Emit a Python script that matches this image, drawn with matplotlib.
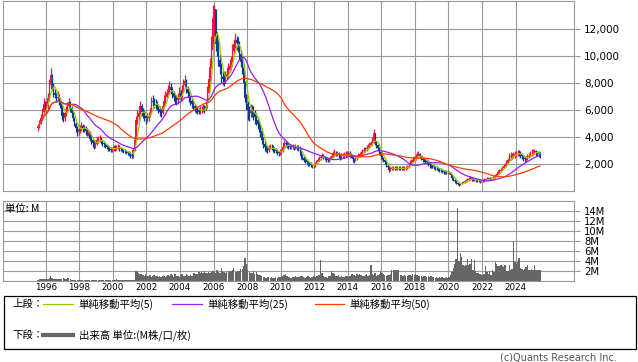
import numpy as np
import pandas as pd
import matplotlib
matplotlib.use('Agg')
import matplotlib.pyplot as plt

plt.rcParams['font.family'] = ['DejaVu Sans', 'Noto Sans CJK JP']
JP = ['Noto Sans CJK JP', 'DejaVu Sans']

# monthly candles, Jul 1995 .. Jun 2025 (open = previous close)
close_px = (
    [4800, 5100, 5400, 5900, 6500, 6200] +                                      # 1995 H2
    [6300, 6900, 7900, 8600, 7800, 7300, 7100, 6900, 7000, 6700, 6500, 5600] +  # 1996
    [5400, 5800, 6000, 6300, 6600, 6200, 5800, 5400, 5000, 4700, 4400, 4600] +  # 1997
    [4700, 4800, 4700, 4650, 4500, 4400, 4400, 3900, 3800, 3600, 3400, 3500] +  # 1998
    [3800, 3850, 3900, 3700, 3550, 3500, 3400, 3300, 3200, 3150, 3050, 3100] +  # 1999
    [3250, 3200, 3250, 3300, 3200, 3100, 3050, 3000, 2950, 2900, 2850, 2800] +  # 2000
    [2700, 2600, 3050, 3800, 5300, 5500, 5800, 6300, 5900, 5800, 5600, 5400] +  # 2001
    [5400, 5600, 5800, 6700, 6600, 6500, 6400, 6300, 6100, 5900, 5800, 6300] +  # 2002
    [6700, 7000, 7250, 7500, 7750, 7500, 7250, 7000, 6800, 6750, 6900, 7300] +  # 2003
    [7000, 7500, 7900, 8200, 7600, 7300, 6900, 6700, 6500, 6300, 6200, 6100] +  # 2004
    [6000, 5900, 6000, 6050, 6150, 6100, 6300, 7300, 8300, 9200, 10500, 12800] +  # 2005
    [13500, 10900, 10700, 9700, 9200, 8500, 8300, 8250, 8500, 8700, 9000, 9300] +  # 2006
    [9500, 10400, 10900, 11200, 11000, 10900, 10200, 9600, 9200, 8000, 6900, 6500] +  # 2007
    [6000, 5800, 6000, 5900, 5800, 5500, 5300, 5000, 4800, 4500, 3800, 3500] +  # 2008
    [3300, 3100, 3050, 3200, 3300, 3250, 3100, 3050, 3000, 2900, 2800, 2900] +  # 2009
    [2950, 3300, 3550, 3500, 3400, 3350, 3300, 3300, 3300, 3250, 3300, 3250] +  # 2010
    [3200, 3100, 2600, 2500, 2350, 2300, 2150, 2050, 2000, 1950, 1850, 1900] +  # 2011
    [2050, 2200, 2350, 2450, 2550, 2650, 2550, 2450, 2400, 2300, 2350, 2450] +  # 2012
    [2600, 2750, 2850, 2800, 2800, 2700, 2550, 2600, 2650, 2700, 2750, 2800] +  # 2013
    [2800, 2750, 2650, 2400, 2300, 2450, 2550, 2650, 2750, 2800, 2950, 3050] +  # 2014
    [3100, 3200, 3300, 3450, 3550, 3700, 4300, 3600, 3400, 3200, 2900, 2600] +  # 2015
    [2500, 2300, 2150, 1900, 1800, 1600, 1650, 1700, 1700, 1680, 1700, 1750] +  # 2016
    [1700, 1680, 1700, 1680, 1700, 1750, 1800, 1900, 2100, 2200, 2350, 2450] +  # 2017
    [2550, 2700, 2750, 2600, 2450, 2350, 2300, 2250, 2200, 2100, 1950, 1900] +  # 2018
    [1850, 1800, 1750, 1700, 1650, 1600, 1550, 1500, 1450, 1420, 1400, 1430] +  # 2019
    [1350, 1200, 1000, 850, 750, 650, 520, 500, 560, 600, 680, 750] +            # 2020
    [800, 850, 930, 950, 900, 850, 850, 820, 800, 780, 750, 760] +               # 2021
    [800, 850, 900, 930, 950, 930, 940, 980, 1050, 1150, 1300, 1400] +           # 2022
    [1500, 1600, 1750, 1850, 1950, 2100, 2300, 2550, 2600, 2650, 2700, 2750] +  # 2023
    [2800, 2850, 2800, 2700, 2600, 2450, 2400, 2450, 2550, 2650, 2800, 2850] +  # 2024
    [2900, 2950, 2850, 2800, 2750, 2680]                                         # 2025 H1
)
high_px = (
    [5000, 5300, 5700, 6200, 6900, 6700] +
    [6700, 7300, 8300, 9100, 8700, 8000, 7600, 7300, 7400, 7200, 6900, 6600] +
    [5900, 6100, 6300, 6600, 6900, 6700, 6300, 5900, 5500, 5100, 4800, 4900] +
    [4900, 5100, 5000, 4900, 4800, 4700, 4600, 4500, 4100, 3900, 3700, 3800] +
    [4000, 4100, 4200, 4000, 3800, 3700, 3600, 3500, 3400, 3300, 3250, 3300] +
    [3450, 3400, 3400, 3500, 3400, 3300, 3200, 3150, 3100, 3050, 3000, 2950] +
    [2900, 2800, 3200, 4100, 5600, 6000, 6300, 6700, 6500, 6200, 6000, 5800] +
    [5800, 5900, 6200, 7000, 7100, 6900, 6800, 6700, 6500, 6300, 6200, 6700] +
    [7100, 7400, 7600, 7900, 8200, 8000, 7700, 7400, 7200, 7100, 7300, 7700] +
    [7500, 7900, 8300, 8600, 8300, 7800, 7400, 7100, 6900, 6700, 6500, 6400] +
    [6300, 6200, 6300, 6350, 6500, 6400, 6700, 7800, 8800, 9900, 11500, 13800] +
    [13800, 13200, 11800, 11200, 10200, 9500, 8900, 8800, 8900, 9200, 9500, 9800] +
    [10000, 10900, 11300, 11700, 11500, 11400, 11100, 10500, 10000, 9400, 8200, 7200] +
    [6700, 6300, 6500, 6400, 6300, 6000, 5800, 5500, 5200, 5000, 4700, 4000] +
    [3700, 3400, 3300, 3400, 3500, 3500, 3400, 3300, 3200, 3100, 3000, 3100] +
    [3150, 3500, 3800, 3750, 3650, 3550, 3500, 3500, 3500, 3450, 3500, 3450] +
    [3400, 3350, 3200, 2750, 2600, 2500, 2400, 2250, 2200, 2150, 2050, 2050] +
    [2200, 2350, 2500, 2600, 2700, 2850, 2750, 2650, 2550, 2500, 2500, 2600] +
    [2800, 2950, 3100, 3000, 3000, 2900, 2750, 2800, 2850, 2900, 2950, 3000] +
    [3000, 2950, 2850, 2700, 2500, 2600, 2700, 2800, 2900, 3000, 3150, 3300] +
    [3300, 3400, 3500, 3650, 3750, 4000, 4600, 4300, 3700, 3500, 3300, 3000] +
    [2700, 2550, 2400, 2250, 2000, 1850, 1800, 1850, 1850, 1850, 1850, 1900] +
    [1850, 1850, 1850, 1850, 1850, 1900, 1950, 2050, 2300, 2400, 2550, 2650] +
    [2750, 2900, 2950, 2850, 2700, 2550, 2500, 2450, 2400, 2300, 2200, 2050] +
    [2000, 1950, 1900, 1850, 1800, 1750, 1700, 1650, 1600, 1550, 1550, 1550] +
    [1500, 1400, 1250, 1050, 900, 800, 700, 600, 650, 700, 780, 850] +
    [900, 950, 1050, 1100, 1050, 950, 950, 920, 900, 880, 850, 850] +
    [900, 950, 1000, 1050, 1050, 1050, 1050, 1100, 1150, 1250, 1400, 1550] +
    [1650, 1750, 1900, 2000, 2100, 2300, 2500, 2800, 2900, 2850, 2900, 2950] +
    [3000, 3050, 3050, 2950, 2850, 2700, 2600, 2650, 2750, 2850, 3000, 3100] +
    [3100, 3150, 3050, 3000, 2950, 2900]
)
low_px = (
    [4500, 4700, 5000, 5300, 5800, 6000] +
    [5900, 6100, 6700, 7600, 7500, 7000, 6900, 6600, 6700, 6400, 6200, 5300] +
    [5100, 5200, 5600, 5800, 6100, 5900, 5500, 5200, 4800, 4400, 4100, 4200] +
    [4300, 4500, 4400, 4400, 4200, 4100, 4100, 3700, 3500, 3300, 3100, 3200] +
    [3400, 3600, 3650, 3500, 3350, 3300, 3200, 3100, 3000, 2950, 2900, 2900] +
    [3000, 3000, 3050, 3100, 3000, 2950, 2900, 2850, 2800, 2750, 2700, 2650] +
    [2500, 2450, 2500, 3000, 3700, 5000, 5300, 5700, 5600, 5400, 5200, 5000] +
    [5100, 5200, 5500, 5700, 6300, 6200, 6100, 6000, 5800, 5600, 5500, 5700] +
    [6200, 6500, 6900, 7100, 7300, 7200, 6900, 6700, 6500, 6400, 6500, 6800] +
    [6700, 6900, 7400, 7700, 7300, 7000, 6600, 6400, 6200, 6000, 5900, 5800] +
    [5700, 5700, 5700, 5800, 5900, 5800, 6000, 6200, 7200, 8200, 9100, 10300] +
    [11500, 10400, 10000, 9300, 8700, 8000, 7900, 7800, 8000, 8300, 8500, 8800] +
    [9000, 9300, 10200, 10600, 10500, 10300, 9800, 9200, 8700, 7600, 6600, 6000] +
    [5300, 5200, 5500, 5500, 5300, 5000, 4900, 4600, 4400, 4000, 3500, 3200] +
    [3000, 2900, 2800, 2900, 3100, 3050, 2900, 2850, 2800, 2700, 2600, 2700] +
    [2750, 2900, 3250, 3300, 3200, 3150, 3100, 3100, 3100, 3050, 3100, 3050] +
    [3000, 2900, 2400, 2300, 2200, 2100, 2000, 1900, 1850, 1800, 1700, 1750] +
    [1800, 2000, 2150, 2250, 2350, 2450, 2400, 2300, 2200, 2150, 2200, 2300] +
    [2400, 2550, 2650, 2600, 2600, 2500, 2350, 2400, 2450, 2500, 2550, 2600] +
    [2600, 2550, 2450, 2200, 2100, 2250, 2350, 2450, 2550, 2600, 2700, 2850] +
    [2900, 3000, 3100, 3200, 3350, 3450, 3600, 3400, 3200, 3000, 2700, 2400] +
    [2300, 2150, 2000, 1800, 1650, 1450, 1500, 1550, 1550, 1550, 1550, 1600] +
    [1550, 1550, 1550, 1550, 1550, 1600, 1650, 1750, 1850, 2050, 2150, 2250] +
    [2350, 2500, 2550, 2450, 2300, 2200, 2150, 2100, 2050, 1900, 1750, 1700] +
    [1700, 1650, 1600, 1550, 1500, 1450, 1400, 1350, 1300, 1250, 1250, 1300] +
    [1250, 1100, 850, 750, 650, 550, 450, 420, 480, 520, 600, 650] +
    [700, 750, 800, 850, 800, 750, 750, 720, 700, 680, 650, 660] +
    [700, 700, 800, 830, 850, 830, 850, 880, 950, 1000, 1150, 1250] +
    [1350, 1450, 1550, 1700, 1800, 1900, 2050, 2250, 2350, 2400, 2450, 2500] +
    [2550, 2600, 2600, 2500, 2400, 2250, 2200, 2250, 2350, 2450, 2550, 2650] +
    [2700, 2750, 2650, 2600, 2550, 2500]
)
first_open = 4700

# monthly volume, millions
volume_m = (
    [0.2, 0.25, 0.3, 0.25, 0.3, 0.25] +
    [0.3, 0.3, 0.5, 0.9, 0.6, 0.4, 0.3, 0.3, 0.4, 0.4, 0.3, 0.35] +
    [0.6, 0.3, 0.35, 0.5, 0.45, 0.3, 0.05, 0.05, 0.05, 0.05, 0.05, 0.05] +
    [0.03] * 12 +
    [0.03] * 12 +
    [0.03, 0.03, 0.27, 0.2, 0.03, 0.03, 0.03, 0.03, 0.03, 0.03, 0.03, 0.03] +
    [0.03, 0.03, 0.03, 0.03, 1.9, 1.7, 1.5, 1.4, 1.3, 1.2, 1.0, 1.3] +
    [1.0, 0.9, 1.1, 0.8, 1.0, 1.2, 0.9, 1.0, 0.8, 0.9, 0.7, 1.0] +
    [0.9, 0.8, 1.0, 1.1, 0.9, 1.3, 1.2, 0.8, 1.4, 0.9, 1.0, 0.8] +
    [1.2, 1.4, 1.0, 0.9, 1.3, 1.1, 0.9, 1.2, 1.0, 1.5, 1.6, 1.3] +
    [1.4, 1.7, 1.5, 1.8, 1.6, 1.9, 1.5, 1.6, 1.8, 1.5, 1.7, 2.0] +
    [1.8, 1.6, 2.2, 1.7, 1.5, 2.5, 1.9, 1.7, 1.6, 1.8, 1.9, 1.7] +
    [2.0, 2.2, 2.5, 1.8, 1.7, 2.0, 1.9, 2.3, 2.4, 3.0, 4.5, 3.4] +
    [2.2, 1.8, 1.5, 1.6, 1.9, 1.4, 1.7, 1.3, 1.1, 1.2, 1.0, 0.8] +
    [0.7, 0.6, 0.8, 0.7, 0.6, 0.7, 0.5, 0.6, 0.7, 0.6, 0.8, 0.7] +
    [0.9, 1.0, 1.2, 1.3, 0.9, 0.8, 0.7, 0.6, 0.8, 0.7, 0.9, 0.8] +
    [0.7, 0.8, 1.0, 0.9, 0.7, 0.6, 0.8, 0.9, 0.7, 0.6, 0.8, 0.9] +
    [0.7, 1.0, 0.9, 1.2, 4.1, 1.5, 1.0, 0.8, 0.7, 0.6, 0.9, 1.0] +
    [2.0, 1.5, 1.3, 1.0, 0.9, 1.1, 0.8, 0.9, 0.7, 0.8, 1.0, 0.9] +
    [0.8, 1.0, 1.3, 1.4, 1.2, 1.0, 1.3, 1.1, 1.4, 1.2, 0.9, 1.0] +
    [1.1, 1.3, 1.0, 1.2, 3.2, 1.4, 1.1, 1.5, 1.0, 1.2, 1.3, 2.0] +
    [1.5, 1.3, 1.1, 1.0, 1.2, 1.1, 1.3, 2.2, 2.2, 2.2, 2.1, 2.2] +
    [2.1, 1.2, 1.1, 1.0, 1.2, 1.0, 0.9, 1.1, 1.2, 1.0, 1.3, 1.2] +
    [1.3, 1.1, 1.0, 0.9, 1.0, 0.8, 0.9, 1.0, 0.8, 0.9, 0.8, 0.9] +
    [0.7, 0.8, 0.6, 0.7, 0.6, 0.7, 0.6, 0.7, 0.6, 0.6, 0.7, 0.6] +
    [0.7, 1.2, 1.7, 2.5, 3.4, 4.4, 14.6, 4.0, 5.6, 4.7, 3.1, 3.0] +
    [3.2, 4.4, 3.1, 3.3, 4.4, 2.1, 4.2, 1.9, 1.6, 1.5, 1.4, 1.1] +
    [1.2, 1.4, 2.9, 1.7, 1.4, 1.9, 1.2, 2.1, 1.8, 3.7, 3.4, 2.9] +
    [2.9, 3.1, 2.9, 2.7, 3.1, 1.9, 2.0, 3.1, 2.1, 2.3, 7.9, 3.7] +
    [3.4, 3.7, 4.5, 2.5, 2.3, 2.1, 2.4, 2.7, 3.2, 2.1, 2.1, 2.3] +
    [2.2, 3.2, 2.1, 2.1, 2.1, 2.1]
)

ma_windows = [5, 25, 50]
ma_colors = ['#99cc00', '#9a1cf0', '#ff3c00']
ma_labels = ['単純移動平均(5)', '単純移動平均(25)', '単純移動平均(50)']
year_ticks = list(range(1996, 2025, 2))
price_ticks = [2000, 4000, 6000, 8000, 10000, 12000]
vol_ticks = [2, 4, 6, 8, 10, 12, 14]

GRID = '#999999'
UP = '#f5143c'
DOWN = '#0c3c9a'

close = np.array(close_px, dtype=float)
opens = np.r_[first_open, close[:-1]]
high = np.maximum(np.array(high_px, dtype=float), np.maximum(opens, close))
low = np.minimum(np.array(low_px, dtype=float), np.minimum(opens, close))
vol = np.array(volume_m, dtype=float)
n = len(close)
x = 1995.5 + np.arange(n) / 12.0 + 1 / 24.0
w = 1 / 12.0

fig = plt.figure(figsize=(6.38, 3.62), dpi=100)
W, H = 638.0, 362.0

def px_axes(l, t, r, b):
    return fig.add_axes([l / W, 1 - b / H, (r - l) / W, (b - t) / H])

def style(ax):
    ax.set_axisbelow(True)
    ax.grid(True, color=GRID, lw=0.8)
    for s in ax.spines.values():
        s.set_color(GRID)
        s.set_linewidth(0.8)
    ax.yaxis.tick_right()
    ax.tick_params(axis='y', which='major', length=4, width=0.8, color=GRID, pad=3.2)
    ax.tick_params(axis='x', length=0)
    ax.set_xlim(1993.47, 2027.5)
    ax.set_xticks(year_ticks)

# upper: candles + moving averages
ax = px_axes(3.3, 0.5, 574.3, 190.5)
style(ax)
colors = np.where(close >= opens, UP, DOWN)
ax.vlines(x, low, high, colors=colors, lw=0.9)
ax.bar(x, close - opens, bottom=opens, width=w * 0.95, color=colors, linewidth=0)
s = pd.Series(close)
for win, c in zip(ma_windows, ma_colors):
    ax.plot(x, s.rolling(win, min_periods=1).mean(), color=c, lw=0.9)
ax.set_ylim(60, 14130)
ax.set_yticks(price_ticks)
ax.set_yticklabels(['{:,}'.format(v) for v in price_ticks], fontsize=7.5)
ax.set_xticklabels([])

# lower: volume
axv = px_axes(3.3, 201, 574.3, 280.5)
style(axv)
axv.bar(x, vol, width=w * 0.95, color='#666666', linewidth=0)
axv.set_ylim(0, 16)
axv.set_yticks(vol_ticks)
axv.set_yticklabels(['%dM' % v for v in vol_ticks], fontsize=7.2)
axv.set_xticklabels([str(y) for y in year_ticks], fontsize=6.3)
axv.tick_params(axis='x', pad=1.5)
axv.text(0.003, 0.9, '単位: M', transform=axv.transAxes, fontsize=7.5,
         family=JP, va='center', ha='left')

# legend box drawn in pixel space
lg = fig.add_axes([0, 0, 1, 1])
lg.set_xlim(0, W)
lg.set_ylim(H, 0)
lg.axis('off')
lg.add_patch(plt.Rectangle((3.5, 296), 632, 53, fill=False, ec='black', lw=0.9))
lg.text(12, 304, '上段：', fontsize=7.5, family=JP, va='center')
seg = [(43, 73, 78), (172, 202, 207), (315, 344, 349)]
for (x0, x1, tx), c, lab in zip(seg, ma_colors, ma_labels):
    lg.plot([x0, x1], [304, 304], color=c, lw=0.9)
    lg.text(tx, 304, lab, fontsize=7.5, family=JP, va='center')
lg.text(12, 335, '下段：', fontsize=7.5, family=JP, va='center')
lg.plot([43, 73], [335, 335], color='#666666', lw=3)
lg.text(79, 335, '出来高 単位:(M株/口/枚)', fontsize=7.5, family=JP, va='center')
lg.text(617, 357, '(c)Quants Research Inc.', fontsize=7, color='#555555',
        ha='right', va='center')

fig.savefig('out.png', dpi=100)
